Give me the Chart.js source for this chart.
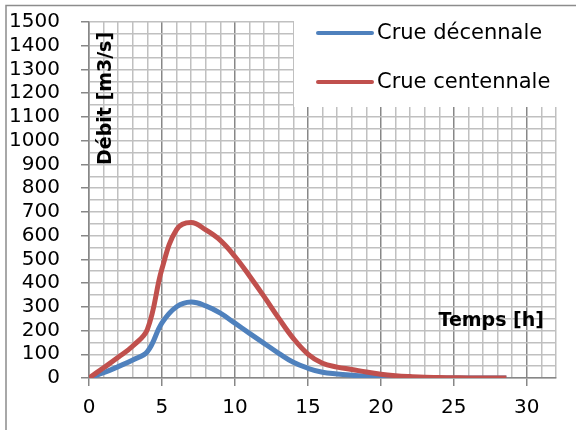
<!DOCTYPE html>
<html>
<head>
<meta charset="utf-8">
<script src="https://cdn.jsdelivr.net/npm/chart.js@4.4.0/dist/chart.umd.min.js"></script>
<style>
  html, body { margin: 0; padding: 0; background: #fff; }
  #wrap { position: relative; width: 576px; height: 430px; }
</style>
</head>
<body>
<div id="wrap"><canvas id="graphe" width="576" height="430"></canvas></div>
<script>
/* données */
var heures = [0, 1, 2, 3, 4, 5, 6, 7, 8, 9, 10, 11, 12, 13, 14, 15, 16, 17, 18, 19, 20, 21, 22, 23, 24, 25, 26, 27, 28.6];
var crueDecennale = [0, 22, 48, 76, 111, 232, 300, 320, 304, 273, 231, 188, 146, 104, 66, 41, 24, 17, 12, 8, 5, 3, 1, 0.5, 0, 0, 0, 0, 0];
var crueCentennale = [0, 43, 87, 135, 205, 460, 625, 655, 624, 580, 512, 430, 343, 252, 167, 101, 62, 46, 36, 25, 16, 10, 6, 3, 2, 1, 0, 0, 0];
var libelles = ['Crue décennale', 'Crue centennale'];
var couleurs = ['#4F81BD', '#C0504D'];
var titreY = 'Débit [m3/s]';
var titreX = 'Temps [h]';

function points(valeurs) {
    return heures.map(function (h, i) { return { x: h, y: valeurs[i] }; });
}

var police = "'DejaVu Sans', sans-serif";

/* cadre, légende et titres dessinés dans la zone du graphique */
var decor = {
    id: 'decor',
    afterDraw: function (chart) {
        var ctx = chart.ctx;
        var zone = chart.chartArea;
        ctx.save();
        // cadre
        ctx.strokeStyle = '#8c8c8c';
        ctx.lineWidth = 1.5;
        ctx.beginPath();
        ctx.moveTo(6, 440);
        ctx.lineTo(6, 5.5);
        ctx.lineTo(590, 5.5);
        ctx.stroke();

        // légende
        ctx.fillStyle = '#fff';
        ctx.fillRect(294, 7, zone.right - 294 + 1, 107 - 7);
        var lignesY = [33, 82];
        chart.data.datasets.forEach(function (ds, i) {
            ctx.strokeStyle = ds.borderColor;
            ctx.lineWidth = 4;
            ctx.lineCap = 'round';
            ctx.beginPath();
            ctx.moveTo(318, lignesY[i]);
            ctx.lineTo(372, lignesY[i]);
            ctx.stroke();
            ctx.fillStyle = '#000';
            ctx.font = '21px ' + police;
            ctx.textAlign = 'left';
            ctx.textBaseline = 'middle';
            ctx.fillText(ds.label, 377, lignesY[i] + 1);
        });

        // titres des axes
        ctx.fillStyle = '#000';
        ctx.font = 'bold 19px ' + police;
        ctx.textBaseline = 'middle';
        ctx.textAlign = 'right';
        ctx.fillText(titreX, 544, 321);

        ctx.translate(106, 165);
        ctx.rotate(-Math.PI / 2);
        ctx.textAlign = 'left';
        ctx.fillText(titreY, 0, 0);
        ctx.restore();
    }
};

var ctx = document.getElementById('graphe').getContext('2d');
var grafico = new Chart(ctx, {
    type: 'line',
    data: {
        datasets: [{
            label: libelles[0],
            data: points(crueDecennale),
            borderColor: couleurs[0],
            borderWidth: 5,
            pointRadius: 0,
            tension: 0.4,
            order: 1
        }, {
            label: libelles[1],
            data: points(crueCentennale),
            borderColor: couleurs[1],
            borderWidth: 5,
            pointRadius: 0,
            tension: 0.4,
            order: 0
        }]
    },
    options: {
        responsive: false,
        animation: false,
        layout: { padding: { left: 0, right: 20, top: 22, bottom: 0 } },
        plugins: {
            legend: { display: false },
            tooltip: { enabled: false }
        },
        scales: {
            x: {
                type: 'linear',
                min: 0,
                max: 32,
                afterFit: function (scale) {
                    scale.height = 52;
                    scale.paddingLeft = 0;
                    scale.paddingRight = 0;
                },
                ticks: {
                    stepSize: 1,
                    autoSkip: false,
                    maxRotation: 0,
                    padding: 10,
                    color: '#000',
                    font: { family: police, size: 20 },
                    callback: function (v) { return v % 5 === 0 ? String(v) : ''; }
                },
                grid: {
                    tickLength: 8,
                    color: function (c) { return c.tick && c.tick.value % 5 === 0 ? '#878787' : '#c0c0c0'; },
                    tickColor: function (c) { return c.tick && c.tick.value % 5 === 0 ? '#878787' : 'rgba(0,0,0,0)'; },
                    lineWidth: 1.5
                },
                border: { color: '#878787', width: 1.5 }
            },
            y: {
                min: 0,
                max: 1500,
                afterFit: function (scale) {
                    scale.width = 89;
                    scale.paddingTop = 0;
                    scale.paddingBottom = 0;
                },
                ticks: {
                    stepSize: 50,
                    autoSkip: false,
                    padding: 21,
                    color: '#000',
                    font: { family: police, size: 20 },
                    callback: function (v) { return v % 100 === 0 ? String(v) : ''; }
                },
                grid: {
                    tickLength: 8,
                    color: '#c0c0c0',
                    tickColor: function (c) { return c.tick && c.tick.value % 100 === 0 ? '#878787' : 'rgba(0,0,0,0)'; },
                    lineWidth: 1.5
                },
                border: { color: '#878787', width: 1.5 }
            }
        }
    },
    plugins: [decor]
});
</script>
</body>
</html>
